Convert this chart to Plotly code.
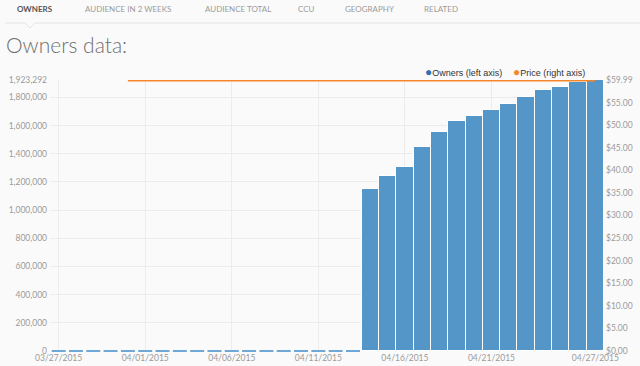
import plotly.graph_objects as go
import pandas as pd

dates = pd.date_range("2015-03-27", "2015-04-27", freq="D").strftime("%Y-%m-%d").tolist()
owners = [0] * 18 + [1147000, 1239000, 1303000, 1446000, 1553000, 1631000, 1667000,
                     1709000, 1752000, 1802000, 1852000, 1873000, 1909000, 1923292]
price_dates = dates[4:]
price = [59.99] * len(price_dates)

left_ticks = [0, 200000, 400000, 600000, 800000, 1000000, 1200000, 1400000, 1600000, 1800000, 1923292]
left_text = ["0", "200,000", "400,000", "600,000", "800,000", "1,000,000", "1,200,000",
             "1,400,000", "1,600,000", "1,800,000", "1,923,292"]
right_ticks = [0, 5, 10, 15, 20, 25, 30, 35, 40, 45, 50, 55, 59.99]
right_text = ["$0.00", "$5.00", "$10.00", "$15.00", "$20.00", "$25.00", "$30.00", "$35.00",
              "$40.00", "$45.00", "$50.00", "$55.00", "$59.99"]
x_ticks = ["2015-03-27", "2015-04-01", "2015-04-06", "2015-04-11", "2015-04-16", "2015-04-21", "2015-04-27"]
x_text = ["03/27/2015", "04/01/2015", "04/06/2015", "04/11/2015", "04/16/2015", "04/21/2015", "04/27/2015"]
active_tab = "OWNERS"
tabs = ["AUDIENCE IN 2 WEEKS", "AUDIENCE TOTAL", "CCU", "GEOGRAPHY", "RELATED"]
tab_right = [173, 273, 317, 396, 460]

BLUE = "#5496c8"
ORANGE = "#f7862a"
BG = "#fafafa"
TICKF = dict(family="Lato, sans-serif", size=8.5, color="#9a9a9a")

L, R, T, B = 50, 36, 80, 15
W, H = 640, 366

fig = go.Figure()
fig.add_trace(go.Bar(x=dates, y=owners, marker=dict(color=BLUE, line=dict(color="white", width=1)),
                     name="Owners (left axis)", yaxis="y", showlegend=False))
zero_x = [d for d, v in zip(dates, owners) if v == 0]
zero_y = [v for v in owners if v == 0]
fig.add_trace(go.Scatter(x=zero_x, y=zero_y, mode="markers", yaxis="y",
                         marker=dict(symbol="line-ew", size=10, line=dict(color="#6fa8d6", width=2)),
                         cliponaxis=False, showlegend=False, hoverinfo="skip"))
fig.add_trace(go.Scatter(x=price_dates, y=price, mode="lines", yaxis="y2",
                         line=dict(color=ORANGE, width=3), name="Price (right axis)",
                         cliponaxis=False, showlegend=False))

fig.update_layout(
    width=W, height=H,
    margin=dict(l=L, r=R, t=T, b=B, autoexpand=False),
    paper_bgcolor=BG, plot_bgcolor=BG,
    bargap=0,
    title=dict(text="<b>%s</b>" % active_tab, x=17 / W, y=1 - 9 / H, xref="container",
               yref="container", xanchor="left", yanchor="middle",
               font=dict(family="Lato, sans-serif", size=8, color="#555555")),
    xaxis=dict(type="date", range=["2015-03-26 12:00", "2015-04-27 12:00"],
               tickvals=x_ticks, ticktext=x_text, tickfont=TICKF, automargin=False,
               showgrid=True, gridcolor="#ececec", gridwidth=1, zeroline=False,
               showline=False, ticks="", ticklabelstandoff=0),
    yaxis=dict(range=[0, 1923292], tickvals=left_ticks, ticktext=left_text, tickfont=TICKF,
               automargin=False,
               showgrid=True, gridcolor="#ececec", zeroline=False, showline=False, ticks="",
               ticklabelstandoff=2),
    yaxis2=dict(range=[0, 59.99], overlaying="y", side="right", tickvals=right_ticks,
                ticktext=right_text, tickfont=TICKF, showgrid=False, zeroline=False,
                automargin=False,
                showline=False, ticks="", ticklabelstandoff=1),
    showlegend=False,
)

pw, ph = W - L - R, H - T - B

def px(x, y):
    return (x - L) / pw, ((H - y) - B) / ph

annotations = []
for t, x in zip(tabs, tab_right):
    ax, ay = px(x, 9)
    annotations.append(dict(text=t, x=ax, y=ay, xref="paper", yref="paper", showarrow=False,
                            xanchor="right", yanchor="middle",
                            font=dict(family="Lato, sans-serif", size=8, color="#9a9a9a")))
ax, ay = px(4, 44)
annotations.append(dict(text="Owners data:", x=ax, y=ay, xref="paper", yref="paper", showarrow=False,
                        xanchor="left", yanchor="middle",
                        font=dict(family="Lato, sans-serif", size=21, color="#707070", weight=300)))
ax, ay = px(423, 72)
annotations.append(dict(text="<span style='color:#2f6fb0;font-size:12px'>●</span>Owners (left axis)",
                        x=ax, y=ay, xref="paper", yref="paper", showarrow=False,
                        xanchor="left", yanchor="middle",
                        font=dict(family="Liberation Sans, Arial, sans-serif", size=9, color="#333333")))
ax, ay = px(511, 72)
annotations.append(dict(text="<span style='color:%s;font-size:12px'>●</span>Price (right axis)" % ORANGE,
                        x=ax, y=ay, xref="paper", yref="paper", showarrow=False,
                        xanchor="left", yanchor="middle",
                        font=dict(family="Liberation Sans, Arial, sans-serif", size=9, color="#333333")))
fig.update_layout(annotations=annotations)

x0, y0 = px(5, 23)
x1, _ = px(640, 23)
xa, _ = px(25, 23)
xb, yb = px(30, 28)
xc, _ = px(35, 23)
fig.add_shape(type="line", xref="paper", yref="paper", x0=x0, y0=y0, x1=xa, y1=y0,
              line=dict(color="#e3e3e3", width=1))
fig.add_shape(type="line", xref="paper", yref="paper", x0=xc, y0=y0, x1=x1, y1=y0,
              line=dict(color="#e3e3e3", width=1))
fig.add_shape(type="path", xref="paper", yref="paper",
              path=f"M {xa} {y0} L {xb} {yb} L {xc} {y0}", line=dict(color="#e3e3e3", width=1))

fig.write_html("out.html", config={"displayModeBar": False},
               post_script="document.body.style.margin='0';document.body.style.padding='0';"
                           "document.body.style.overflow='hidden';"
                           "document.body.style.background='%s';" % BG)
